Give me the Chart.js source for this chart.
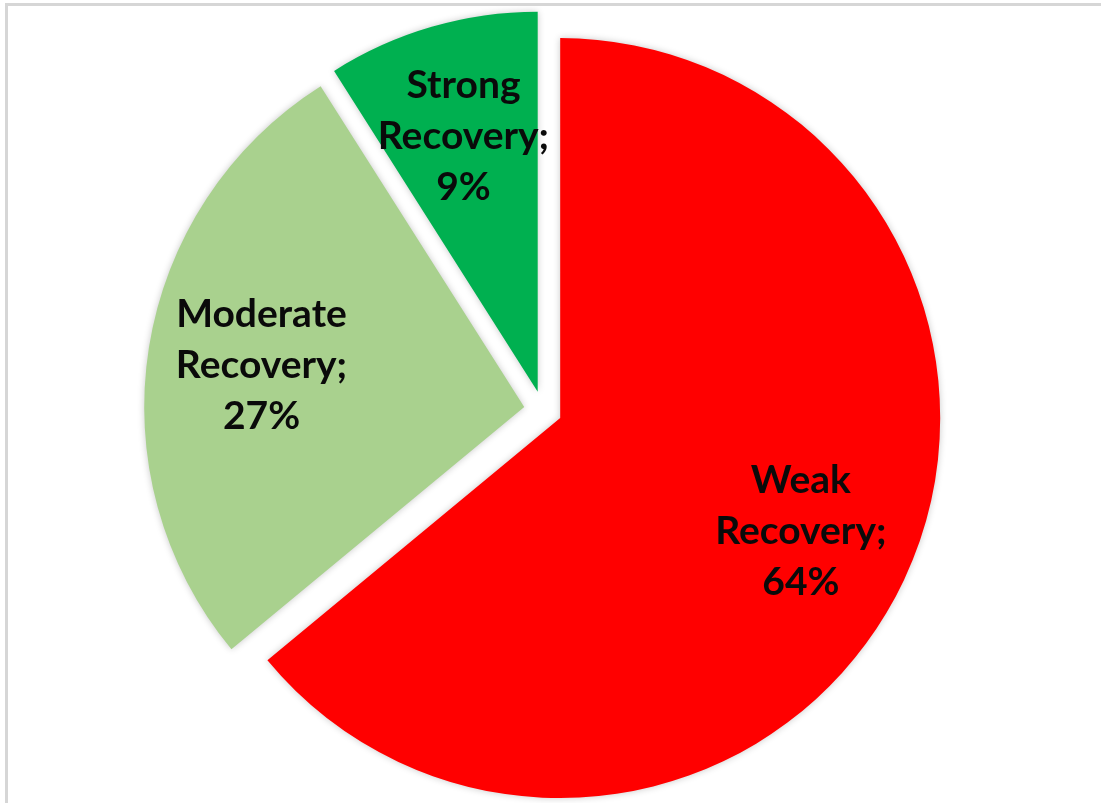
<!DOCTYPE html>
<html>
<head>
<meta charset="utf-8">
<title>Recovery</title>
<script src="https://cdn.jsdelivr.net/npm/chart.js@4.4.1/dist/chart.umd.min.js"></script>
<style>
  body { margin: 0; background: #fff; }
  #wrap { position: relative; width: 1101px; height: 803px; overflow: hidden; }
  #frame {
    position: absolute; left: 5px; top: 3px; right: -10px; bottom: -10px;
    border-top: 3px solid #d6d6d6; border-left: 3px solid #d6d6d6;
    pointer-events: none;
  }
  canvas { position: absolute; left: 0; top: 0; }
</style>
</head>
<body>
<div id="wrap">
  <canvas id="myChart" width="1101" height="803"></canvas>
  <div id="frame"></div>
</div>
<script>
'use strict';

// categories and shares (percent), clockwise from 12 o'clock
let recoveryNames = ['Weak Recovery', 'Moderate Recovery', 'Strong Recovery'];
let recoveryShares = [64, 27, 9];
let sliceColors = ['#ff0000', '#a9d18e', '#00b050'];

let explodeDistance = 19;

// push every slice out from the centre along its middle angle
let explodePlugin = {
  id: 'explode',
  afterDatasetUpdate(chart, args) {
    args.meta.data.forEach(function(arc) {
      let mid = (arc.startAngle + arc.endAngle) / 2;
      arc.x += Math.cos(mid) * explodeDistance;
      arc.y += Math.sin(mid) * explodeDistance;
    });
  }
};

// soft shadow under the slices
let shadowPlugin = {
  id: 'sliceShadow',
  beforeDatasetsDraw(chart) {
    let ctx = chart.ctx;
    ctx.save();
    ctx.shadowColor = 'rgba(0, 0, 0, 0.22)';
    ctx.shadowBlur = 7;
    ctx.shadowOffsetX = 0;
    ctx.shadowOffsetY = 0;
  },
  afterDatasetsDraw(chart) {
    chart.ctx.restore();
  }
};

// "Name; xx%" labels inside each slice
let labelPlugin = {
  id: 'sliceLabels',
  afterDatasetsDraw(chart) {
    let ctx = chart.ctx;
    let meta = chart.getDatasetMeta(0);
    ctx.save();
    ctx.font = 'bold 39px Lato, "DejaVu Sans", sans-serif';
    ctx.fillStyle = '#0a0a0a';
    ctx.textAlign = 'center';
    ctx.textBaseline = 'middle';
    meta.data.forEach(function(arc, i) {
      let words = recoveryNames[i].split(' ');
      let lines = words.slice(0, -1);
      lines.push(words[words.length - 1] + ';');
      lines.push(recoveryShares[i] + '%');
      let mid = (arc.startAngle + arc.endAngle) / 2;
      let r = arc.outerRadius * 0.7;
      let cx = arc.x + Math.cos(mid) * r;
      let cy = arc.y + Math.sin(mid) * r;
      let lineHeight = 51;
      let top = cy - (lines.length - 1) * lineHeight / 2;
      lines.forEach(function(line, j) {
        ctx.fillText(line, cx, top + j * lineHeight);
      });
    });
    ctx.restore();
  }
};

const ctx = document.getElementById('myChart').getContext('2d');

let myChart = new Chart(ctx, {
  type: 'pie',
  data: {
    labels: recoveryNames,
    datasets: [{
      data: recoveryShares,
      backgroundColor: sliceColors,
      borderWidth: 0,
      radius: 380
    }]
  },
  options: {
    responsive: false,
    animation: false,
    devicePixelRatio: 1,
    layout: {
      padding: { left: 0, right: 15, top: 17, bottom: 0 }
    },
    plugins: {
      legend: { display: false },
      tooltip: { enabled: false }
    }
  },
  plugins: [explodePlugin, shadowPlugin, labelPlugin]
});
</script>
</body>
</html>
